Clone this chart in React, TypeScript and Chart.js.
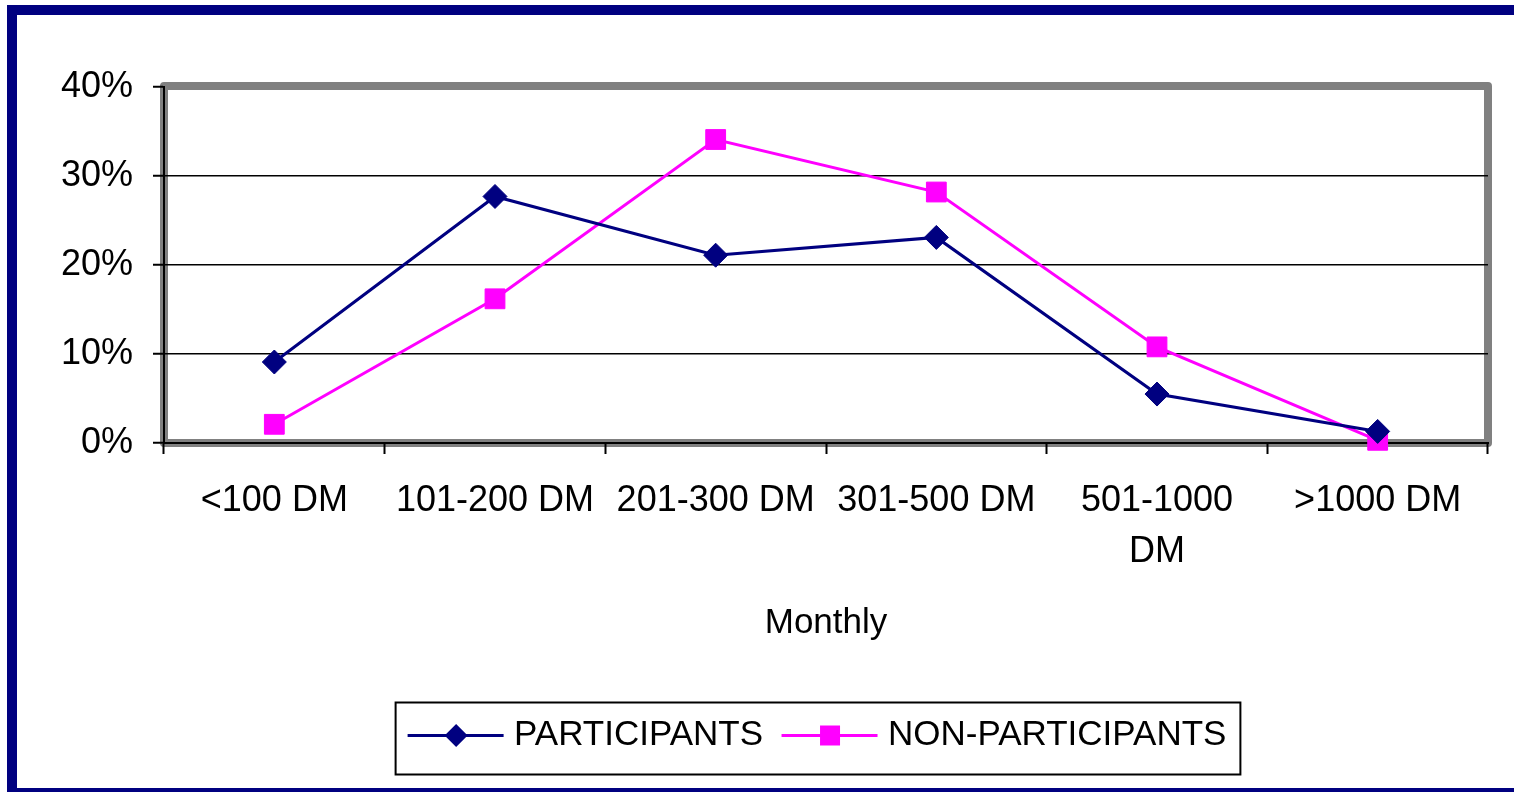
import React, { useEffect, useRef } from "react";
import { Chart, registerables } from "chart.js";

Chart.register(...registerables);

const categories: (string | string[])[] = [
  "<100 DM",
  "101-200 DM",
  "201-300 DM",
  "301-500 DM",
  ["501-1000", "DM"],
  ">1000 DM",
];
const participants = [9.1, 27.7, 21.1, 23.1, 5.5, 1.3];
const nonParticipants = [2.1, 16.2, 34.1, 28.2, 10.8, 0.3];
const seriesNames = ["PARTICIPANTS", "NON-PARTICIPANTS"];
const yTicks = [0, 10, 20, 30, 40];
const xTitle = "Monthly";

const NAVY = "#000080";
const MAGENTA = "#FF00FF";
const FONT = "'Liberation Sans', Arial, sans-serif";

const decorPlugin = {
  id: "decor",
  afterLayout(chart: any) {
    const lg = chart.legend;
    if (lg) {
      lg.left -= 5;
      lg.right -= 5;
    }
  },
  beforeDraw(chart: any) {
    const { ctx, chartArea: ca, width, height } = chart;
    ctx.save();
    ctx.fillStyle = "#ffffff";
    ctx.fillRect(0, 0, width, height);
    // outer navy frame
    ctx.fillStyle = NAVY;
    ctx.fillRect(7, 5, width - 7, 10);
    ctx.fillRect(7, 5, 10, height - 5);
    ctx.fillRect(7, height - 4, width - 7, 4);
    // gray plot frame
    ctx.strokeStyle = "#808080";
    ctx.lineWidth = 8;
    ctx.lineJoin = "round";
    ctx.strokeRect(ca.left, ca.top - 1, ca.right - ca.left, ca.bottom - ca.top + 1);
    ctx.restore();
  },
  afterDraw(chart: any) {
    const { ctx } = chart;
    const legend = chart.legend;
    if (!legend || !legend.legendHitBoxes) return;
    const hbs = legend.legendHitBoxes;
    const bw = legend.options.labels.boxWidth;
    ctx.save();
    hbs.forEach((hb: any, i: number) => {
      const ds = chart.data.datasets[i];
      const cy = hb.top + hb.height / 2;
      const cx = hb.left + bw / 2;
      ctx.strokeStyle = ds.borderColor;
      ctx.lineWidth = 3;
      ctx.beginPath();
      ctx.moveTo(hb.left - 8, cy);
      ctx.lineTo(hb.left + bw + 7, cy);
      ctx.stroke();
      ctx.fillStyle = ds.backgroundColor;
      ctx.beginPath();
      if (ds.pointStyle === "rectRot") {
        const r = 11.5;
        ctx.moveTo(cx, cy - r);
        ctx.lineTo(cx + r, cy);
        ctx.lineTo(cx, cy + r);
        ctx.lineTo(cx - r, cy);
        ctx.closePath();
      } else {
        const s = 10;
        ctx.rect(cx - s, cy - s, 2 * s, 2 * s);
      }
      ctx.fill();
    });
    const first = hbs[0];
    const last = hbs[hbs.length - 1];
    const cy = first.top + first.height / 2;
    const left = first.left - 20;
    const right = last.left + last.width + 14;
    ctx.strokeStyle = "#000000";
    ctx.lineWidth = 2;
    ctx.strokeRect(left, cy - 33, right - left, 72);
    ctx.restore();
  },
};

export default function App() {
  const ref = useRef<HTMLCanvasElement | null>(null);

  useEffect(() => {
    document.body.style.margin = "0";
    const canvas = ref.current;
    if (!canvas) return;
    Chart.defaults.font.family = FONT;
    Chart.defaults.color = "#000000";

    const chart = new Chart(canvas, {
      type: "line",
      data: {
        labels: categories,
        datasets: [
          {
            label: seriesNames[0],
            data: participants,
            borderColor: NAVY,
            backgroundColor: NAVY,
            borderWidth: 3,
            pointStyle: "rectRot",
            pointRadius: 12,
            pointBorderWidth: 1,
            pointHoverRadius: 12,
            tension: 0,
            clip: false as any,
          },
          {
            label: seriesNames[1],
            data: nonParticipants,
            borderColor: MAGENTA,
            backgroundColor: MAGENTA,
            borderWidth: 3,
            pointStyle: "rect",
            pointRadius: 14,
            pointBorderWidth: 1,
            pointHoverRadius: 14,
            tension: 0,
            clip: false as any,
          },
        ],
      },
      options: {
        animation: false,
        responsive: false,
        devicePixelRatio: 1,
        layout: { padding: { top: 87, right: 26, bottom: 29, left: 0 } },
        plugins: {
          tooltip: { enabled: false },
          legend: {
            position: "bottom",
            fullSize: false,
            labels: {
              boxWidth: 81,
              boxHeight: 3,
              padding: 26.5,
              color: "#000000",
              font: { size: 35, family: FONT },
              generateLabels: (c: any) => {
                const items = Chart.defaults.plugins.legend.labels.generateLabels(c);
                return items.map((it: any) => ({ ...it, lineWidth: 0 }));
              },
            },
          },
        },
        scales: {
          x: {
            type: "category",
            offset: true,
            grid: {
              offset: true,
              drawOnChartArea: false,
              drawTicks: true,
              tickLength: 11,
              tickColor: "#000000",
              tickWidth: 2,
            },
            border: { display: true, color: "#000000", width: 2 },
            ticks: {
              color: "#000000",
              padding: 21,
              maxRotation: 0,
              autoSkip: false,
              font: { size: 36, family: FONT, lineHeight: 1.43 },
            },
            title: {
              display: true,
              text: xTitle,
              color: "#000000",
              font: { size: 35, family: FONT, lineHeight: 1.2 },
              padding: { top: 0, bottom: 47.5 },
            },
            afterFit: (s: any) => {
              s.height = 248.5;
            },
          },
          y: {
            min: 0,
            max: 40,
            afterBuildTicks: (s: any) => {
              s.ticks = yTicks.map((v) => ({ value: v }));
            },
            grid: {
              color: (c: any) => (c.tick && c.tick.value === 40 ? "rgba(0,0,0,0)" : "#000000"),
              lineWidth: 1.5,
              tickLength: 11,
              tickColor: "#000000",
              tickWidth: 2,
            },
            border: { display: true, color: "#000000", width: 2 },
            ticks: {
              color: "#000000",
              padding: 20,
              font: { size: 36, family: FONT },
              callback: (v: any) => `${v}%`,
            },
            afterFit: (s: any) => {
              s.width = 164;
            },
          },
        },
      },
      plugins: [decorPlugin],
    });
    return () => chart.destroy();
  }, []);

  return (
    <canvas
      ref={ref}
      width={1514}
      height={792}
      style={{ display: "block", width: 1514, height: 792 }}
    />
  );
}
